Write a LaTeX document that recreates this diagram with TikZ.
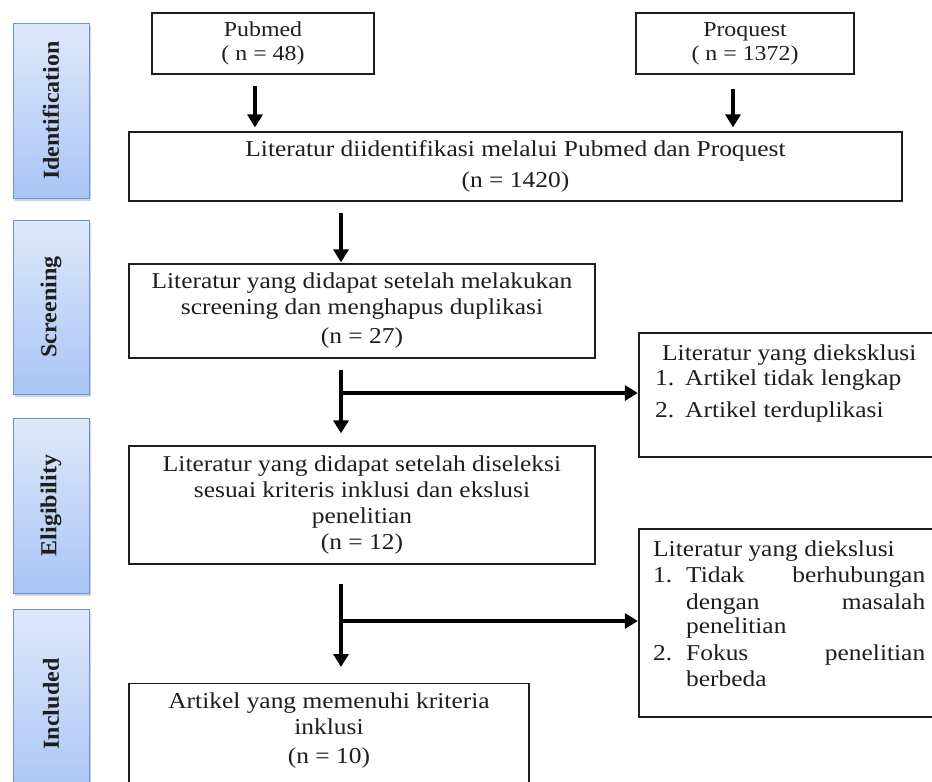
\documentclass[tikz,border=0pt]{standalone}
\usepackage{fontspec}
\setmainfont{Liberation Serif}[FakeStretch=1.12]
\newfontfamily\sidefont{Liberation Serif}[FakeStretch=1.05]
\usetikzlibrary{arrows.meta,shadows,calc}
\definecolor{sidetop}{HTML}{DEE8FA}
\definecolor{sidebot}{HTML}{A9C5F5}
\definecolor{sideborder}{HTML}{6C93CF}
\definecolor{ink}{HTML}{1E1E1E}
\begin{document}
\begin{tikzpicture}[x=1pt,y=-1pt,
  box/.style={draw=ink, line width=1.3pt, inner sep=0pt, fill=white, align=center, text=ink,
    font=\fontsize{22.7}{26}\selectfont},
  srcbox/.style={box, font=\fontsize{21.3}{24}\selectfont},
  side/.style={draw=sideborder, line width=1pt, top color=sidetop, bottom color=sidebot,
    minimum width=76pt, inner sep=0pt, text=ink,
    font=\sidefont\bfseries\fontsize{22.9}{24}\selectfont,
    drop shadow={shadow xshift=2pt, shadow yshift=-2.5pt, opacity=0.35}},
  arr/.style={draw=black, line width=4pt, -{Triangle[width=15pt,length=13pt]}},
  ln/.style={anchor=base west, inner sep=0pt, text=ink, font=\fontsize{22.7}{26}\selectfont}
]
\useasboundingbox (0,0) rectangle (932,782);
\begin{scope}
\clip (-5,-5) rectangle (932,782);

% side phase labels
\node[side, minimum height=175pt] (sid) at (51,110.5) {\rotatebox{90}{Identification}};
\node[side, minimum height=174pt] (ssc) at (51,307) {\rotatebox{90}{Screening}};
\node[side, minimum height=175pt] (sel) at (51,505.5) {\rotatebox{90}{Eligibility}};
\node[side, minimum height=190pt] (sin) at (51,704) {\rotatebox{90}{Included}};

% source boxes
\node[srcbox, minimum width=222pt, minimum height=61pt] (pub) at (263,43.5) {Pubmed\\( n = 48)};
\node[srcbox, minimum width=218pt, minimum height=61pt] (pro) at (745,43.5) {Proquest\\( n = 1372)};

% main boxes
\node[box, minimum width=773pt, minimum height=69pt] (b1) at (515.5,166.5)
  {Literatur diidentifikasi melalui Pubmed dan Proquest\\[5pt](n = 1420)};
\node[box, minimum width=466pt, minimum height=94pt] (b2) at (362,311)
  {Literatur yang didapat setelah melakukan\\screening dan menghapus duplikasi\\[3pt](n = 27)};
\node[box, minimum width=466pt, minimum height=118pt] (b3) at (362,505)
  {Literatur yang didapat setelah diseleksi\\sesuai kriteris inklusi dan ekslusi\\penelitian\\(n = 12)};
\node[box, minimum width=400pt, minimum height=120pt, anchor=north] (b4) at (329,683) {};
\node[box, draw=none, fill=none] (b4t) at (329,731) {Artikel yang memenuhi kriteria\\inklusi\\[3pt](n = 10)};

% exclusion boxes
\node[box, minimum width=306pt, minimum height=124pt] (r1) at (792,395) {};
\node[box, minimum width=306pt, minimum height=188pt] (r2) at (792,623) {};

% text of exclusion box 1
\node[ln] (r1a) at (662,360.5) {Literatur yang dieksklusi};
\node[ln] (r1b) at (655,385.5) {1.};
\node[ln] (r1c) at (685,385.5) {Artikel tidak lengkap};
\node[ln] (r1d) at (655,417.5) {2.};
\node[ln] (r1e) at (685,417.5) {Artikel terduplikasi};

% text of exclusion box 2
\node[ln] (r2a) at (653,556.5) {Literatur yang diekslusi};
\node[ln] (r2b) at (653,582.5) {1.};
\node[ln] (r2c) at (686,582.5) {\hbox to 239pt{Tidak\hfill berhubungan}};
\node[ln] (r2d) at (686,609.5) {\hbox to 239pt{dengan\hfill masalah}};
\node[ln] (r2e) at (686,633.5) {penelitian};
\node[ln] (r2f) at (653,660.5) {2.};
\node[ln] (r2g) at (686,660.5) {\hbox to 239pt{Fokus\hfill penelitian}};
\node[ln] (r2h) at (686,686.5) {berbeda};

% junctions
\coordinate (j1) at (341,393);
\coordinate (j2) at (341,621);

% connectors
\draw[arr, shorten <=11pt, shorten >=4pt] ([xshift=-8pt]pub.south) -- ([xshift=-8pt]pub.south |- b1.north);
\draw[arr, shorten <=14pt, shorten >=4pt] ([xshift=-12pt]pro.south) -- ([xshift=-12pt]pro.south |- b1.north);
\draw[arr, shorten <=11pt, shorten >=1pt] (j1 |- b1.south) -- (j1 |- b2.north);
\draw[arr, shorten <=11pt, shorten >=12pt] (j1 |- b2.south) -- (j1 |- b3.north);
\draw[arr, shorten >=0.5pt] (j1) -- (j1 -| r1.west);
\draw[arr, shorten <=19pt, shorten >=16pt] (j2 |- b3.south) -- (j2 |- b4.north);
\draw[arr, shorten >=0.5pt] (j2) -- (j2 -| r2.west);
\end{scope}
\end{tikzpicture}
\end{document}
